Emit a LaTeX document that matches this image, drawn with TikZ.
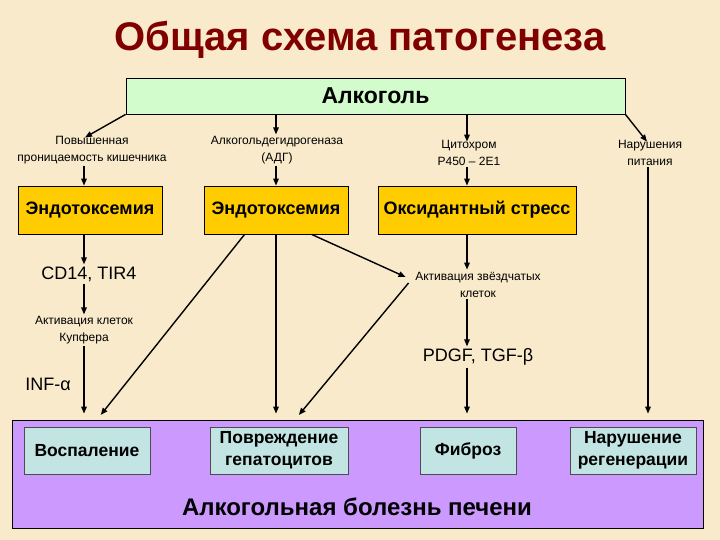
\documentclass[tikz,border=0pt]{standalone}
\usepackage{fontspec}
\setmainfont{Liberation Sans}
\usetikzlibrary{arrows.meta,calc}
\definecolor{bg}{HTML}{F8EACA}
\definecolor{titlered}{HTML}{800000}
\definecolor{alkgreen}{HTML}{D2FCCC}
\definecolor{gold}{HTML}{FFCC00}
\definecolor{lilac}{HTML}{CC99FF}
\definecolor{cyanbox}{HTML}{C2E4E2}
\begin{document}
\begin{tikzpicture}[x=1pt,y=-1pt,
  arr/.style={-{Triangle[length=7pt,width=5.5pt]}, line width=1.4pt},
  small/.style={font=\fontsize{12}{17}\selectfont, align=center, inner sep=1.5pt},
  mid/.style={font=\fontsize{18}{20}\selectfont, inner sep=2pt},
  goldbox/.style={draw=black, line width=0.8pt, fill=gold, minimum height=48pt, font=\bfseries\fontsize{18}{20}\selectfont},
  cybox/.style={draw=black!70, line width=0.6pt, fill=cyanbox, minimum height=47pt, align=center, font=\bfseries\fontsize{17.5}{22}\selectfont}]
\fill[bg] (0,0) rectangle (720,540);
\useasboundingbox (0,0) rectangle (720,540);

\node[text=titlered, font=\bfseries\fontsize{40}{44}\selectfont] (title) at (360,40) {Общая схема патогенеза};

\node[draw=black, line width=0.8pt, fill=alkgreen, minimum width=499pt, minimum height=36pt, font=\bfseries\fontsize{23}{26}\selectfont] (alk) at (375.5,96) {Алкоголь};

\coordinate (colA) at (84,0);
\coordinate (colB) at (276,0);
\coordinate (colC) at (467,0);
\coordinate (colD) at (648,0);

\node[small] (l1) at (92,150) {Повышенная\\проницаемость кишечника};
\node[small] (l2) at (277,150) {Алкогольдегидрогеназа\\(АДГ)};
\node[small] (l3) at (469,153) {Цитохром\\Р450 – 2Е1};
\node[small] (l4) at (650,153) {Нарушения\\питания};

\node[goldbox, minimum width=144pt] (e1) at (90,210) {Эндотоксемия};
\node[goldbox, minimum width=144pt] (e2) at (276,210) {Эндотоксемия};
\node[goldbox, minimum width=198pt] (ox) at (477,210) {Оксидантный стресс};

\node[mid] (cd) at (89,274) {CD14, TIR4};
\node[small] (kup) at (84,330) {Активация клеток\\Купфера};
\node[mid] (inf) at (48,384) {INF-α};
\node[small] (zv) at (478,285) {Активация звёздчатых\\клеток};
\node[mid] (pd) at (478,357) {PDGF, TGF-β};

\node[draw=black, line width=0.8pt, fill=lilac, minimum width=691pt, minimum height=108pt] (big) at (357.5,474) {};
\node[cybox, minimum width=126pt] (vos) at (87,450.5) {Воспаление};
\node[cybox, minimum width=138pt] (pov) at (279,450.5) {Повреждение\\гепатоцитов};
\node[cybox, minimum width=96pt] (fib) at (468,450.5) {Фиброз};
\node[cybox, minimum width=126pt] (nar) at (633,450.5) {Нарушение\\регенерации};
\node[font=\bfseries\fontsize{24}{26}\selectfont] (ald) at (357,507) {Алкогольная болезнь печени};

% from Alcohol
\draw[arr] (alk.south west) -- ($(l1.north)+(-7,3)$);
\draw[arr] (alk.south -| colB) -- (l2.north -| colB);
\draw[arr] (alk.south -| colC) -- ($(l3.north -| colC)+(0,3)$);
\draw[arr] (alk.south east) -- ($(l4.north)+(-3,3)$);

\draw[arr] (l1.south -| colA) -- (e1.north -| colA);
\draw[arr] (l2.south -| colB) -- (e2.north -| colB);
\draw[arr] (l3.south -| colC) -- (ox.north -| colC);

% left column
\draw[arr] (e1.south -| colA) -- (cd.north -| colA);
\draw[arr] (cd.south -| colA) -- (kup.north -| colA);
\draw[arr, shorten >=6pt] (kup.south -| colA) -- (big.north -| colA);

% middle
\draw[arr, shorten >=6pt] ($(e2.south west)+(41,0)$) -- ($(big.north -| colA)+(13,0)$);
\draw[arr, shorten >=6pt] (e2.south -| colB) -- (big.north -| colB);
\draw[arr] ($(e2.south west)+(108,0)$) -- ($(zv.west)+(-8,-8)$);
\draw[arr, shorten >=6pt] ($(zv.west)+(-5,-2)$) -- ($(big.north -| colB)+(19,0)$);

% right
\draw[arr] (ox.south -| colC) -- ($(zv.north -| colC)+(0,-1)$);
\draw[arr] (zv.south -| colC) -- (pd.north -| colC);
\draw[arr, shorten >=6pt] (pd.south -| colC) -- (big.north -| colC);
\draw[arr, shorten >=6pt] (l4.south -| colD) -- (big.north -| colD);
\end{tikzpicture}
\end{document}
